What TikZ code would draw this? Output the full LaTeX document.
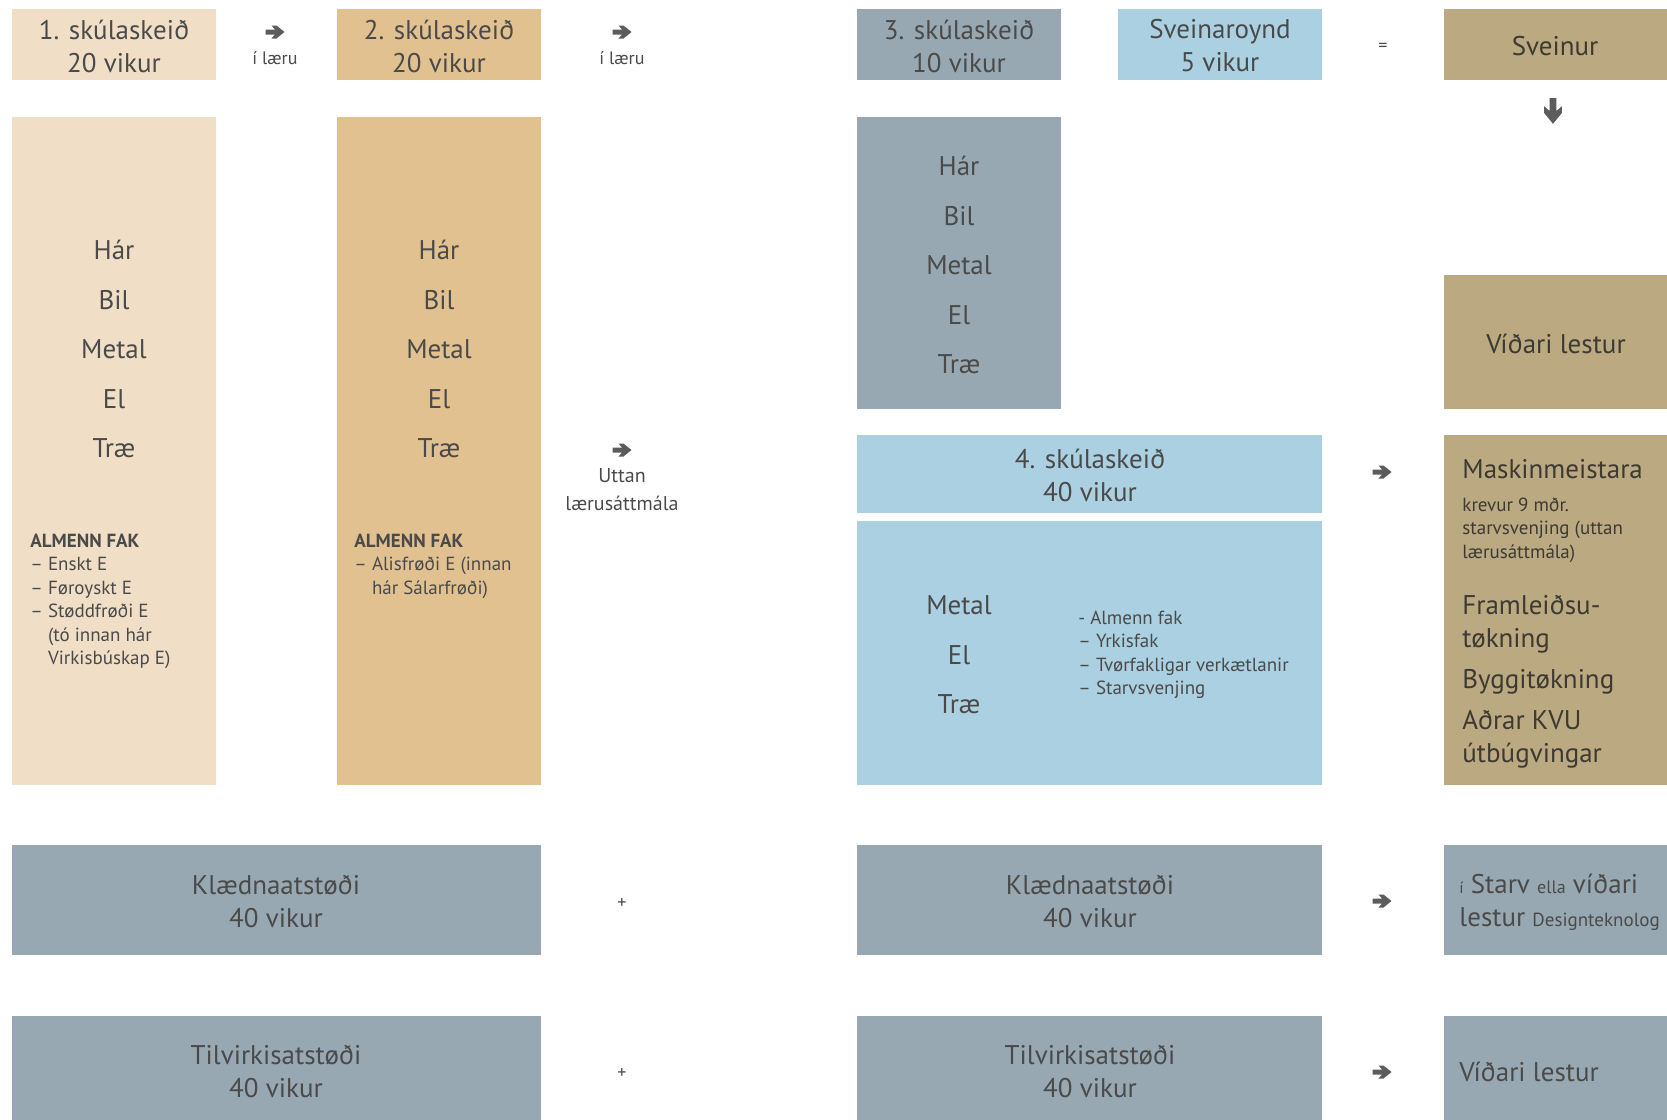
\documentclass[tikz,border=0pt]{standalone}
\usepackage{fontspec}
\setmainfont{PT Sans}
\definecolor{beige}{HTML}{F0DFC6}
\definecolor{sand}{HTML}{E2C191}
\definecolor{slate}{HTML}{98A8B2}
\definecolor{sky}{HTML}{ABD0E1}
\definecolor{tan}{HTML}{BAA981}
\definecolor{ink}{HTML}{4A4A4A}
\definecolor{inkd}{HTML}{3E3A32}
\begin{document}
\begin{tikzpicture}[x=0.5pt,y=-0.5pt,
	big/.style={text=ink,align=center,inner sep=0pt,font=\fontsize{13.5}{16.5}\selectfont},
	small/.style={text=ink,align=left,inner sep=0pt,font=\fontsize{9.5}{11.75}\selectfont},
	tiny/.style={text=ink,align=center,inner sep=0pt,font=\fontsize{9}{14}\selectfont}]
	\useasboundingbox (0,0) rectangle (1667,1120);
	\fill[beige] (12,9) rectangle (216,80);
	\fill[beige] (12,117) rectangle (216,785);
	\fill[sand] (337,9) rectangle (541,80);
	\fill[sand] (337,117) rectangle (541,785);
	\fill[slate] (857,9) rectangle (1061,80);
	\fill[slate] (857,117) rectangle (1061,409);
	\fill[sky] (1118,9) rectangle (1322,80);
	\fill[tan] (1444,9) rectangle (1667,80);
	\fill[tan] (1444,275) rectangle (1667,409);
	\fill[sky] (857,435) rectangle (1322,513);
	\fill[sky] (857,521) rectangle (1322,785);
	\fill[tan] (1444,435) rectangle (1667,785);
	\foreach \y/\h in {845/955,1016/1120}{
		\fill[slate] (12,\y) rectangle (541,\h);
		\fill[slate] (857,\y) rectangle (1322,\h);
		\fill[slate] (1444,\y) rectangle (1667,\h);}
	\node[big] (s1) at (114,46) {1. skúlaskeið\\20 vikur};
	\node[big] (s2) at (439,46) {2. skúlaskeið\\20 vikur};
	\node[big] (s3) at (959,46) {3. skúlaskeið\\10 vikur};
	\node[big] (sr) at (1220,46) {Sveinaroynd\\5 vikur};
	\node[big,text=inkd] (sv) at (1555,46) {Sveinur};
	\foreach \n/\y [count=\i] in {Hár/250,Bil/300,Metal/349,El/399,Træ/448}{
		\node[big] (a\i) at (114,\y) {\n};
		\node[big] (b\i) at (439,\y) {\n};}
	\foreach \n/\y [count=\i] in {Hár/166,Bil/216,Metal/265,El/315,Træ/364}
		\node[big] (c\i) at (959,\y) {\n};
	\foreach \n/\y [count=\i] in {Metal/605,El/655,Træ/704}
		\node[big] (d\i) at (959,\y) {\n};
	\node[small,anchor=west] (fa) at (30,601.5) {\textbf{ALMENN FAK}\\– Enskt E\\– Føroyskt E\\– Støddfrøði E\\\phantom{– }(tó innan hár\\\phantom{– }Virkisbúskap E)};
	\node[small,anchor=west] (fb) at (354,566) {\textbf{ALMENN FAK}\\– Alisfrøði E (innan\\\phantom{– }hár Sálarfrøði)};
	\node[big] (s4) at (1090,475) {4. skúlaskeið\\40 vikur};
	\node[small,anchor=west] (fd) at (1078,655) {- Almenn fak\\– Yrkisfak\\– Tvørfakligar verkætlanir\\– Starvsvenjing};
	\node[big,text=inkd] (vl) at (1556,344) {Víðari lestur};
	\node[big,text=inkd,anchor=west] (m1) at (1462,469) {Maskinmeistara};
	\node[small,text=inkd,anchor=west] (m2) at (1462,530) {krevur 9 mðr.\\starvsvenjing (uttan\\lærusáttmála)};
	\node[big,text=inkd,anchor=west,align=left] (m3) at (1462,624.5) {Framleiðsu-\\tøkning};
	\node[big,text=inkd,anchor=west] (m4) at (1462,682) {Byggitøkning};
	\node[big,text=inkd,anchor=west,align=left] (m5) at (1462,739.5) {Aðrar KVU\\útbúgvingar};
	\node[big] (k1) at (276,902) {Klædnaatstøði\\40 vikur};
	\node[big] (k2) at (1090,902) {Klædnaatstøði\\40 vikur};
	\node[big] (t1) at (276,1072) {Tilvirkisatstøði\\40 vikur};
	\node[big] (t2) at (1090,1072) {Tilvirkisatstøði\\40 vikur};
	\node[big,anchor=west,align=left] (st) at (1459,902) {{\fontsize{8}{8}\selectfont í} Starv {\fontsize{9}{9}\selectfont ella} víðari\\lestur {\fontsize{9.5}{9.5}\selectfont Designteknolog}};
	\node[big,anchor=west] (vl2) at (1459,1072) {Víðari lestur};
	\foreach \x/\y/\r/\s in {275/32/0/1,622/32/0/1,622/450/0/1,1382/472/0/1,1382/901/0/1,1382/1072/0/1,1553/111/-90/1.35}
		\fill[ink!90,shift={(\x,\y)},rotate=\r,scale=\s] (-9.5,-2.5) -- (0,-2.5) -- (-3.5,-6.5) -- (1.5,-6.5) -- (9.5,0)
			-- (1.5,6.5) -- (-3.5,6.5) -- (0,2.5) -- (-9.5,2.5) -- cycle;
	\node[tiny] (l1) at (275,58) {í læru};
	\node[tiny] (l2) at (622,58) {í læru};
	\node[tiny,font=\fontsize{10}{14}\selectfont] (ut) at (622,490) {Uttan\\lærusáttmála};
	\node[tiny] (eq) at (1383,47) {=};
	\node[tiny] (pl1) at (622,903) {+};
	\node[tiny] (pl2) at (622,1073) {+};
\end{tikzpicture}
\end{document}
